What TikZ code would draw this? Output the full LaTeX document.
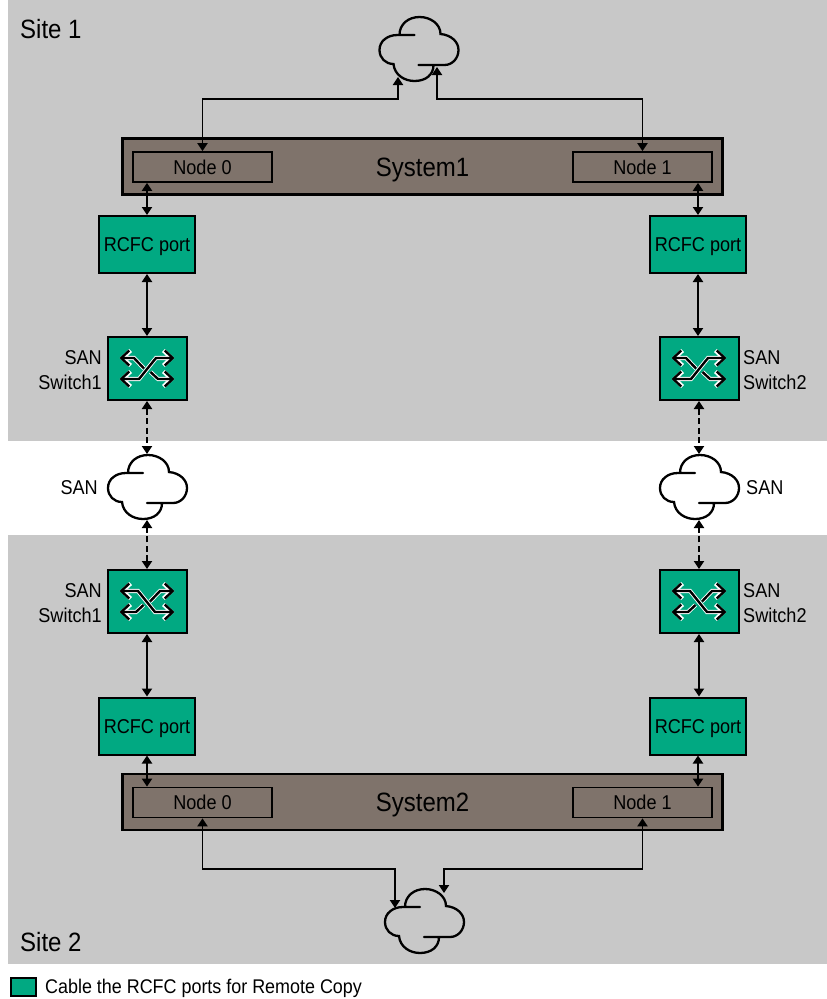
\documentclass[tikz,border=0pt]{standalone}
\usepackage{fontspec}
\setmainfont[FakeStretch=0.905]{Liberation Sans}
\usetikzlibrary{arrows.meta}
\definecolor{siteback}{HTML}{C8C8C8}
\definecolor{sysbrown}{HTML}{7F736B}
\definecolor{portgreen}{HTML}{01A982}
\tikzset{
	link/.style={draw=black, line width=1.9pt, {Triangle[length=8pt,width=10pt]}-{Triangle[length=8pt,width=10pt]}},
	sanlink/.style={link, dash pattern=on 6pt off 3.5pt},
	sysbox/.style={draw=black, line width=2.5pt, fill=sysbrown, minimum width=600pt, minimum height=56pt, inner sep=0pt, text height=19pt, text depth=0pt, font=\fontsize{26.5}{30}\selectfont},
	hostbox/.style={draw=black, line width=1.7pt, fill=sysbrown, minimum width=139pt, minimum height=30pt, inner sep=0pt, text height=14.3pt, text depth=0pt, font=\fontsize{20}{24}\selectfont},
	portbox/.style={draw=black, line width=2pt, fill=portgreen, minimum width=96pt, minimum height=57pt, inner sep=0pt, text height=14.3pt, text depth=0pt, font=\fontsize{20}{24}\selectfont},
	switchbox/.style={draw=black, line width=2pt, fill=portgreen, minimum width=79pt, minimum height=63pt, inner sep=0pt},
	namelabel/.style={inner sep=0pt, font=\fontsize{20}{25}\selectfont},
	sitelabel/.style={inner sep=0pt, font=\fontsize{26.5}{30}\selectfont},
	barbleft/.style={{Straight Barb[length=8pt,width=15pt]}-},
	barbright/.style={-{Straight Barb[length=8pt,width=15pt]}},
	barbs/.style={{Straight Barb[length=8pt,width=15pt]}-{Straight Barb[length=8pt,width=15pt]}},
	netcloud/.pic={
		\draw[line width=2.3pt, line cap=round]
			(-4,-15) -- (-21,-15) .. controls (-31,-15) and (-39,-9) .. (-39,0)
			.. controls (-39,8) and (-33,14) .. (-25,14)
			.. controls (-24,25) and (-14,31) .. (-4,31)
			.. controls (7,31) and (15,25) .. (15,15)
			(0,15) -- (26,15) .. controls (34,15) and (40,8) .. (40,0)
			.. controls (40,-8) and (33,-15) .. (22,-16)
			.. controls (22,-26) and (12,-33) .. (1,-33)
			.. controls (-10,-33) and (-19,-26) .. (-19,-15);
		\coordinate (-n) at (0,-34);
		\coordinate (-s) at (0,32);
		\coordinate (-sw) at (-20.5,27);
		\coordinate (-se) at (18.5,17);
		\coordinate (-nw) at (-29,-14);
		\coordinate (-ne) at (20,-29);
	},
	crossarrows/.pic={
		\foreach \ink/\wide in {white/4.2pt, black/2.4pt} {
			\draw[\ink, line width=\wide, barbleft] (-27.5,-10.5) -- (-13,-10.5) -- (-3,0);
			\draw[\ink, line width=\wide, barbright] (3.5,3.5) -- (11,10.5) -- (27.5,10.5);
			\draw[\ink, line width=\wide, barbs] (-27.5,10.5) -- (-8,10.5) -- (9,-10.5) -- (27.5,-10.5);
		}
	}
}
\begin{document}
\begin{tikzpicture}[x=1pt,y=-1pt]
	\useasboundingbox (0,0) rectangle (827,999);

	% Site backgrounds
	\fill[siteback] (8,0) rectangle (827,441);
	\fill[siteback] (8,535) rectangle (827,964);
	\node[sitelabel, anchor=west] (siteone) at (20,29) {Site 1};
	\node[sitelabel, anchor=west] (sitetwo) at (20,942) {Site 2};

	% Systems with their two nodes
	\node[sysbox] (sysone) at (422.5,166.5) {System1};
	\node[hostbox] (aleft) at (202.5,167) {Node 0};
	\node[hostbox] (aright) at (642.5,167) {Node 1};
	\node[sysbox] (systwo) at (422.5,802) {System2};
	\node[hostbox] (bleft) at (202.5,802.5) {Node 0};
	\node[hostbox] (bright) at (642.5,802.5) {Node 1};

	% RCFC ports
	\node[portbox] (portal) at (147,244.5) {RCFC port};
	\node[portbox] (portar) at (698,244.5) {RCFC port};
	\node[portbox] (portbl) at (147,726) {RCFC port};
	\node[portbox] (portbr) at (698,726) {RCFC port};

	% SAN switches
	\node[switchbox] (swal) at (147,368.5) {};
	\node[switchbox] (swar) at (699,368.5) {};
	\node[switchbox] (swbl) at (147,601.5) {};
	\node[switchbox] (swbr) at (699,601.5) {};
	\pic at (swal) {crossarrows};
	\pic at (swar) {crossarrows};
	\pic[xscale=-1] at (swbl) {crossarrows};
	\pic[xscale=-1] at (swbr) {crossarrows};
	\node[namelabel, align=right, anchor=east] (swalabel) at (102,370) {SAN\\Switch1};
	\node[namelabel, align=left, anchor=west] (swarlabel) at (743,370) {SAN\\Switch2};
	\node[namelabel, align=right, anchor=east] (swblabel) at (102,603) {SAN\\Switch1};
	\node[namelabel, align=left, anchor=west] (swbrlabel) at (743,603) {SAN\\Switch2};

	% Clouds
	\pic (cloudtop) at (418.5,50) {netcloud};
	\pic (cloudbot) at (424,922) {netcloud};
	\pic (sanleft) at (147,488) {netcloud};
	\pic (sanright) at (699,488) {netcloud};
	\node[namelabel, anchor=east] (sanllabel) at (98,488) {SAN};
	\node[namelabel, anchor=west] (sanrlabel) at (746,488) {SAN};

	% Links over the upper and lower clouds
	\draw[link] (aleft.north) -- ++(0,-52) -| (cloudtop-sw);
	\draw[link] (aright.north) -- ++(0,-52) -| (cloudtop-se);
	\draw[link] (bleft.south) -- ++(0,51) -| (cloudbot-nw);
	\draw[link] (bright.south) -- ++(0,51) -| (cloudbot-ne);

	% Left and right chains
	\foreach \col/\cld in {l/sanleft,r/sanright} {
		\draw[link] (porta\col.north) -- (porta\col.north |- aleft.south);
		\draw[link] (porta\col.south) -- (porta\col.south |- swa\col.north);
		\draw[sanlink] (swa\col.south) -- (swa\col.south |- \cld-n);
		\draw[sanlink] (swb\col.north) -- (swb\col.north |- \cld-s);
		\draw[link] (swb\col.south) -- (swb\col.south |- portb\col.north);
		\draw[link] (portb\col.south) -- (portb\col.south |- bleft.north);
	}

	% Legend
	\node[draw=black, line width=1.5pt, fill=portgreen, minimum width=25pt, minimum height=18pt, inner sep=0pt] (keybox) at (23.5,987) {};
	\node[namelabel, font=\fontsize{19.8}{25}\selectfont, anchor=west] (keytext) at (45,988) {Cable the RCFC ports for Remote Copy};
\end{tikzpicture}
\end{document}
